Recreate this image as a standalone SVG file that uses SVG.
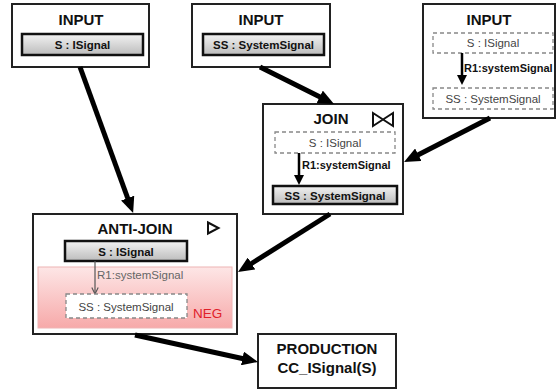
<svg xmlns="http://www.w3.org/2000/svg" width="560" height="391" viewBox="0 0 560 391">
  <defs>
    <linearGradient id="barFill" x1="0" y1="0" x2="0" y2="1">
      <stop offset="0" stop-color="#f2f2f2"/>
      <stop offset="1" stop-color="#bcbcbc"/>
    </linearGradient>
    <linearGradient id="negFill" x1="0" y1="0" x2="0" y2="1">
      <stop offset="0" stop-color="#fde6e6"/>
      <stop offset="1" stop-color="#f7a9a9"/>
    </linearGradient>
    <marker id="head" viewBox="0 0 16 14" refX="1" refY="7" markerWidth="16" markerHeight="14" markerUnits="userSpaceOnUse" orient="auto">
      <path d="M0,0 L16,7 L0,14 Z" fill="#000"/>
    </marker>
    <marker id="headSmall" viewBox="0 0 10 10" refX="1" refY="5" markerWidth="10" markerHeight="10" markerUnits="userSpaceOnUse" orient="auto">
      <path d="M0,0 L10,5 L0,10 Z" fill="#000"/>
    </marker>
    <marker id="headThin" viewBox="0 0 10 10" refX="9" refY="5" markerWidth="8" markerHeight="8" markerUnits="userSpaceOnUse" orient="auto">
      <path d="M1,1 L9,5 L1,9" fill="none" stroke="#555" stroke-width="1.4"/>
    </marker>
  </defs>
  <style>
    text { font-family: "Liberation Sans", Arial, sans-serif; }
    .frame { fill: #fff; stroke: #222; stroke-width: 2; }
    .title { font-size: 15px; font-weight: bold; fill: #111; text-anchor: middle; }
    .bar { fill: url(#barFill); stroke: #111; stroke-width: 2.5; }
    .barText { font-size: 11.5px; font-weight: bold; fill: #111; text-anchor: middle; }
    .dash { fill: #fff; stroke: #888; stroke-width: 1.3; stroke-dasharray: 4 3; }
    .dashText { font-size: 11.5px; fill: #444; text-anchor: middle; }
    .role { font-size: 11px; font-weight: bold; fill: #111; }
    .roleNeg { font-size: 11.5px; fill: #666; }
    .edge { fill: none; stroke: #000; stroke-width: 5; marker-end: url(#head); }
    .link { fill: none; stroke: #000; stroke-width: 2.5; marker-end: url(#headSmall); }
  </style>

  <!-- input: S : ISignal -->
  <g id="input-s">
    <rect class="frame" x="12" y="4" width="137" height="63"/>
    <text class="title" x="81" y="25">INPUT</text>
    <rect class="bar" x="22" y="34" width="121" height="21"/>
    <text class="barText" x="82.5" y="49">S : ISignal</text>
  </g>

  <!-- input: SS : SystemSignal -->
  <g id="input-ss">
    <rect class="frame" x="192" y="4" width="138" height="63"/>
    <text class="title" x="261" y="25">INPUT</text>
    <rect class="bar" x="203" y="34" width="121" height="21"/>
    <text class="barText" x="263.5" y="49">SS : SystemSignal</text>
  </g>

  <!-- input: S -R1-> SS pattern -->
  <g id="input-r1">
    <rect class="frame" x="423" y="4" width="132" height="114"/>
    <text class="title" x="489" y="25">INPUT</text>
    <rect class="dash" x="433" y="33" width="120" height="20"/>
    <text class="dashText" x="493" y="47">S : ISignal</text>
    <path class="link" d="M462,53 L462,76"/>
    <text class="role" x="464" y="72">R1:systemSignal</text>
    <rect class="dash" x="433" y="88" width="120" height="21"/>
    <text class="dashText" x="493" y="103">SS : SystemSignal</text>
  </g>

  <!-- join node -->
  <g id="join">
    <rect class="frame" x="263" y="104" width="140" height="110"/>
    <text class="title" x="331" y="124">JOIN</text>
    <path d="M373,113 L393,126 L393,113 L373,126 Z" fill="none" stroke="#111" stroke-width="2"/>
    <rect class="dash" x="275" y="132" width="120" height="21"/>
    <text class="dashText" x="335" y="147">S : ISignal</text>
    <path class="link" d="M299,153 L299,176"/>
    <text class="role" x="302" y="169">R1:systemSignal</text>
    <rect class="bar" x="273" y="186" width="124" height="18"/>
    <text class="barText" x="335" y="199.5">SS : SystemSignal</text>
  </g>

  <!-- anti-join node with negative pattern -->
  <g id="anti-join">
    <rect class="frame" x="33" y="214" width="204" height="120"/>
    <text class="title" x="135" y="234">ANTI-JOIN</text>
    <path d="M208,222.5 L218.5,228 L208,233.5 Z" fill="none" stroke="#111" stroke-width="2"/>
    <rect x="38" y="267" width="194" height="61" fill="url(#negFill)" stroke="#eeb4b4" stroke-width="1"/>
    <rect class="bar" x="65" y="241" width="122" height="20"/>
    <text class="barText" x="126" y="255.5">S : ISignal</text>
    <path d="M95,261 L95,294" fill="none" stroke="#555" stroke-width="1.2" marker-end="url(#headThin)"/>
    <text class="roleNeg" x="97" y="279">R1:systemSignal</text>
    <rect class="dash" x="66" y="294" width="121" height="24" fill="none"/>
    <text class="dashText" x="126" y="311">SS : SystemSignal</text>
    <text x="193" y="318" font-size="13.5" fill="#e0202a">NEG</text>
  </g>

  <!-- production node -->
  <g id="production">
    <rect class="frame" x="258" y="334" width="138" height="54"/>
    <text class="title" x="327" y="354" font-size="14">PRODUCTION</text>
    <text class="title" x="327" y="373" font-size="14">CC_ISignal(S)</text>
  </g>

  <!-- connectors -->
  <g id="connectors">
    <path class="edge" d="M80,67 L128,199"/>
    <path class="edge" d="M260,67 L320.6,97.3"/>
    <path class="edge" d="M490,118 L417.4,155.2"/>
    <path class="edge" d="M330,214 L250.7,264"/>
    <path class="edge" d="M135,335 L243.4,358.7"/>
  </g>
</svg>
